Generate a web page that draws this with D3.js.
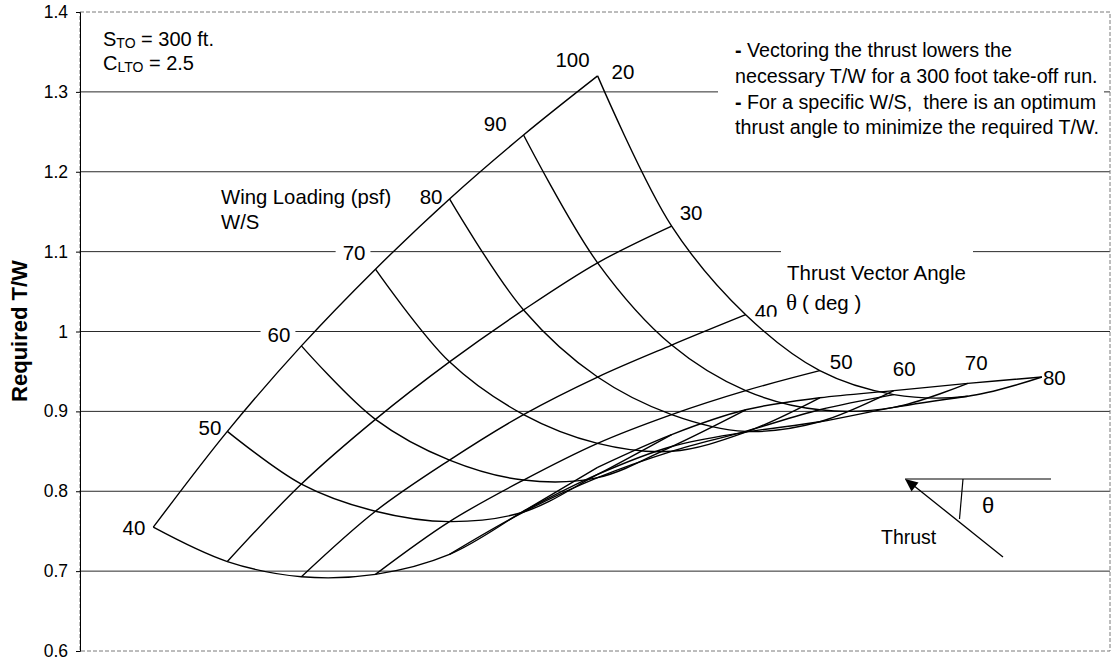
<!DOCTYPE html>
<html>
<head>
<meta charset="utf-8">
<script src="https://cdn.jsdelivr.net/npm/d3@7"></script>
<style>
  body { margin: 0; background: #fff; }
  svg { display: block; }
  text { font-family: "Liberation Sans", Arial, sans-serif; fill: #000; white-space: pre; }
</style>
</head>
<body>
<svg id="chart" width="1111" height="660"></svg>
<script>
// Carpet parameters
const wingLoading = [40, 50, 60, 70, 80, 90, 100];   // W/S (psf)
const thrustAngle = [20, 30, 40, 50, 60, 70, 80];    // theta (deg)

// Required T/W for each wing loading, one value per thrust angle above
const tw40  = [0.755, 0.712, 0.693, 0.696, 0.721, 0.775, 0.830];
const tw50  = [0.875, 0.809, 0.775, 0.762, 0.774, 0.821, 0.871];
const tw60  = [0.982, 0.890, 0.839, 0.814, 0.817, 0.856, 0.902];
const tw70  = [1.078, 0.962, 0.896, 0.860, 0.850, 0.874, 0.917];
const tw80  = [1.166, 1.027, 0.943, 0.896, 0.875, 0.887, 0.926];
const tw90  = [1.246, 1.086, 0.983, 0.926, 0.902, 0.905, 0.935];
const tw100 = [1.320, 1.132, 1.021, 0.951, 0.921, 0.919, 0.943];
const twRows = [tw40, tw50, tw60, tw70, tw80, tw90, tw100];

const yTicks = [0.6, 0.7, 0.8, 0.9, 1.0, 1.1, 1.2, 1.3, 1.4];
const yTickLabels = ["0.6", "0.7", "0.8", "0.9", "1", "1.1", "1.2", "1.3", "1.4"];

const notesLeft = ["= 300 ft.", "= 2.5"];
const notesRight = [
  ["-", " Vectoring the thrust lowers the"],
  ["", "necessary T/W for a 300 foot take-off run."],
  ["-", " For a specific W/S,  there is an optimum"],
  ["", "thrust angle to minimize the required T/W."]
];

const svg = d3.select("#chart");
const plot = { left: 80, right: 1110, top: 12, bottom: 651 };

// Carpet abscissa: W/S + theta (offset axis, not drawn)
const x = d3.scaleLinear().domain([60, 180]).range([153.3, 1041.9]);
const y = d3.scaleLinear().domain([0.6, 1.4]).range([plot.bottom, plot.top]);

// grid nodes
const nodes = wingLoading.map((ws, i) =>
  thrustAngle.map((th, j) => ({ ws, th, tw: twRows[i][j] })));
const px = d => x(d.ws + d.th);
const py = d => y(d.tw);

// ---- gridlines
svg.append("g").selectAll("line").data(yTicks.slice(1, -1)).join("line")
  .attr("x1", plot.left).attr("x2", plot.right)
  .attr("y1", d => y(d)).attr("y2", d => y(d))
  .attr("stroke", "#2a2a2a").attr("stroke-width", 1);

// plot area frame (dashed) and left axis
svg.append("rect")
  .attr("x", plot.left).attr("y", plot.top)
  .attr("width", plot.right - plot.left).attr("height", plot.bottom - plot.top)
  .attr("fill", "none").attr("stroke", "#7a7a7a").attr("stroke-dasharray", "4,2");

const yAxis = d3.axisLeft(y).tickValues(yTicks)
  .tickFormat((d, i) => yTickLabels[i]).tickSize(4).tickPadding(8);
const gy = svg.append("g").attr("transform", `translate(${plot.left},0)`).call(yAxis);
gy.select(".domain").attr("stroke", "#000");
gy.selectAll(".tick line").attr("stroke", "#000");
gy.selectAll(".tick text").attr("font-size", 17.5)
  .attr("font-family", "Liberation Sans, Arial, sans-serif").attr("fill", "#000");

svg.append("text")
  .attr("transform", "translate(27,331) rotate(-90)")
  .attr("text-anchor", "middle")
  .attr("font-size", 22).attr("font-weight", "bold")
  .text("Required T/W");

// ---- label helper with optional white backing
function label(g, text, xx, yy, anchor, size, backed) {
  const t = g.append("text").attr("x", xx).attr("y", yy)
    .attr("text-anchor", anchor).attr("dominant-baseline", "central")
    .attr("font-size", size).text(text);
  if (backed) {
    const b = t.node().getBBox();
    g.insert("rect", "text").attr("x", b.x - 7).attr("y", b.y)
      .attr("width", b.width + 12).attr("height", b.height).attr("fill", "#fff");
  }
  return t;
}

const labels = svg.append("g");

// W/S labels at the theta = 20 edge
const wsOffsets = [[-8, 0], [-6, -4], [-11, -11], [-10, -17], [-7, -2], [-17, -12], [-8, -16]];
wingLoading.forEach((ws, i) => {
  const n = nodes[i][0];
  const g = labels.append("g");
  label(g, String(ws), px(n) + wsOffsets[i][0], py(n) + wsOffsets[i][1], "end", 20.5, i === 2 || i === 3);
});

// theta labels along the W/S = 100 edge
const thOffsets = [[14, -4], [8, -14], [9, -3], [10, -9], [-1, -26], [-3, -34], [1, 0]];
thrustAngle.forEach((th, j) => {
  const n = nodes[6][j];
  label(labels, String(th), px(n) + thOffsets[j][0], py(n) + thOffsets[j][1], "start", 20.5, false);
});
// the text box beneath trims the foot of the "40"
labels.append("rect").attr("x", 752).attr("y", 316.7).attr("width", 30).attr("height", 6).attr("fill", "#fff");

// ---- annotation boxes
svg.append("rect").attr("x", 718).attr("y", 36).attr("width", 386).attr("height", 106).attr("fill", "#fff");
svg.append("rect").attr("x", 781).attr("y", 244).attr("width", 192).attr("height", 40).attr("fill", "#fff");

const tl = svg.append("text").attr("x", 103).attr("y", 46).attr("font-size", 20);
tl.append("tspan").text("S");
tl.append("tspan").attr("font-size", 14).attr("dy", 2).text("TO");
tl.append("tspan").attr("dy", -2).text(" " + notesLeft[0]);
const tl2 = svg.append("text").attr("x", 103).attr("y", 70).attr("font-size", 20);
tl2.append("tspan").text("C");
tl2.append("tspan").attr("font-size", 14).attr("dy", 2).text("LTO");
tl2.append("tspan").attr("dy", -2).text(" " + notesLeft[1]);

notesRight.forEach((ln, i) => {
  const t = svg.append("text").attr("x", 735).attr("y", 57 + i * 25.8).attr("font-size", 19.7);
  if (ln[0]) {
    t.append("tspan").attr("font-weight", "bold").text(ln[0]);
    t.append("tspan").text(ln[1]);
  } else {
    t.append("tspan").attr("x", 735).text(ln[1]);
  }
});

svg.append("text").attr("x", 221).attr("y", 204).attr("font-size", 20.3).text("Wing Loading (psf)");
svg.append("text").attr("x", 221).attr("y", 229).attr("font-size", 20.3).text("W/S");
svg.append("text").attr("x", 787).attr("y", 280).attr("font-size", 20.5).text("Thrust Vector Angle");
const th = svg.append("text").attr("x", 786).attr("y", 310).attr("font-size", 20.5);
th.append("tspan").attr("font-family", "Liberation Serif, serif").attr("font-size", 23).text("\u03b8");
th.append("tspan").attr("dx", 5).text("( deg )");

// ---- carpet lines
const line = d3.line().x(px).y(py).curve(d3.curveCatmullRom.alpha(0.5));
const carpet = svg.append("g").attr("fill", "none").attr("stroke", "#000").attr("stroke-width", 1.4);
// constant W/S
carpet.selectAll("path.ws").data(nodes).join("path").attr("class", "ws").attr("d", line);
// constant theta
const columns = thrustAngle.map((t, j) => nodes.map(row => row[j]));
carpet.selectAll("path.th").data(columns).join("path").attr("class", "th").attr("d", line);

// ---- thrust direction sketch
const sk = svg.append("g");
sk.append("line").attr("x1", 905).attr("y1", 479).attr("x2", 1051).attr("y2", 479)
  .attr("stroke", "#555").attr("stroke-width", 1.6);
sk.append("line").attr("x1", 1003).attr("y1", 557).attr("x2", 913).attr("y2", 485)
  .attr("stroke", "#000").attr("stroke-width", 1.3);
sk.append("path").attr("d", "M905,479 L918.5,482.5 L911.5,491.5 Z").attr("fill", "#000");
sk.append("line").attr("x1", 963).attr("y1", 479).attr("x2", 959.5).attr("y2", 519)
  .attr("stroke", "#000").attr("stroke-width", 1.2);
sk.append("text").attr("x", 982).attr("y", 513).attr("font-size", 22)
  .attr("font-family", "Liberation Serif, serif").text("\u03b8");
sk.append("text").attr("x", 881).attr("y", 544).attr("font-size", 19.5).text("Thrust");
</script>
</body>
</html>
